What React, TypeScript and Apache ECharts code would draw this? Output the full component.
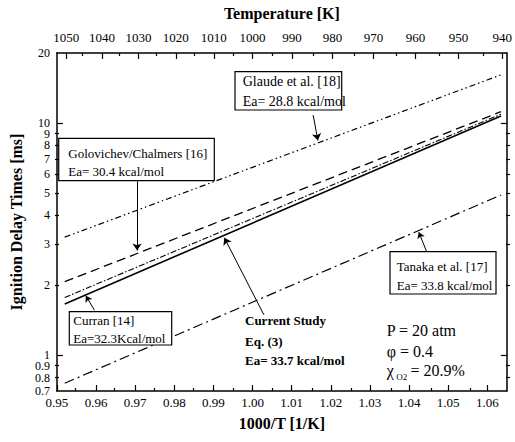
import React, { useEffect, useRef } from "react";
import * as echarts from "echarts";

// ---- data ----
const xEnds = [0.952, 1.0635]; // 1000/T at line ends
const glaude = [3.22, 16.1];
const golovichev = [2.07, 11.17];
const curran = [1.77, 10.9];
const current = [1.66, 10.7];
const tanaka = [0.756, 4.89];

const xTicks = [0.95, 0.96, 0.97, 0.98, 0.99, 1.0, 1.01, 1.02, 1.03, 1.04, 1.05, 1.06];
const xMinorTicks = [0.955, 0.965, 0.975, 0.985, 0.995, 1.005, 1.015, 1.025, 1.035, 1.045, 1.055];
const tempTicks = [1050, 1040, 1030, 1020, 1010, 1000, 990, 980, 970, 960, 950, 940];
const tempMinorTicks = [1045, 1035, 1025, 1015, 1005, 995, 985, 975, 965, 955, 945];
const yLabels = [0.7, 0.8, 0.9, 1, 2, 3, 4, 5, 6, 7, 8, 9, 10, 20];
const yMajorTicks = [1, 10];
const yMinorTicks = [0.8, 0.9, 2, 3, 4, 5, 6, 7, 8, 9];

// arrows: [tail, tip] in data space ([1000/T, ms])
const arrowGlaude = [[1.0155, 10.8], [1.0167, 8.4]];
const arrowGolovichev = [[0.9705, 5.6], [0.9705, 2.82]];
const arrowCurrent = [[1.0029, 1.49], [0.9928, 3.2]];
const arrowCurran = [[0.9596, 1.56], [0.9574, 1.8]];
const arrowTanaka = [[1.0445, 2.79], [1.0425, 3.38]];

const FONT = "Liberation Serif";
const YMIN = Math.log10(0.7);
const YMAX = Math.log10(20);

function pts(vals: number[]) {
  return xEnds.map((x, i) => [x, Math.log10(vals[i])]);
}
function arrow(a: number[][], size: number) {
  return [
    { coord: [a[0][0], Math.log10(a[0][1])], symbol: "none" },
    { coord: [a[1][0], Math.log10(a[1][1])], symbol: "arrow", symbolSize: size },
  ];
}

function lineSeries(name: string, vals: number[], type: any, width: number, extra: any = {}) {
  return {
    name,
    type: "line",
    xAxisIndex: 0,
    yAxisIndex: 0,
    data: pts(vals),
    symbol: "none",
    silent: true,
    lineStyle: { color: "#000", width, type },
    ...extra,
  };
}

const axisLineStyle = { show: true, onZero: false, lineStyle: { color: "#000", width: 1.5 } };
const noLine = { show: false, onZero: false };
const tickLabel = { color: "#000", fontSize: 13, fontFamily: FONT, showMinLabel: true, showMaxLabel: true };
const nameStyle = { fontWeight: "bold", fontSize: 16, fontFamily: FONT, color: "#000" };
const tickLine = { color: "#000", width: 1.2 };

export default function App() {
  const ref = useRef<HTMLDivElement>(null);
  useEffect(() => {
    if (!ref.current) return;
    const chart = echarts.init(ref.current, undefined, { renderer: "svg" });
    const box = (x: number, y: number, w: number, h: number) => ({
      type: "rect",
      z: 100,
      shape: { x, y, width: w, height: h },
      style: { fill: "#fff", stroke: "#000", lineWidth: 1.2 },
    });
    const txt = (x: number, y: number, text: string, size: number, weight = "normal") => ({
      type: "text",
      z: 101,
      x,
      y,
      style: {
        text,
        fontSize: size,
        fontFamily: FONT,
        fontWeight: weight,
        fill: "#000",
        align: "left",
        verticalAlign: "middle",
        textAlign: "left",
        textVerticalAlign: "middle",
      },
    });
    const option: any = {
      animation: false,
      textStyle: { fontFamily: FONT },
      grid: [
        { left: 55, right: 5, top: 53, bottom: 51 },
        { left: 55, right: 5, top: 53, bottom: 51 },
      ],
      xAxis: [
        {
          gridIndex: 0,
          type: "value",
          position: "bottom",
          min: 0.95,
          max: 1.065,
          axisLine: axisLineStyle,
          splitLine: { show: false },
          axisTick: { inside: true, length: 6, customValues: xTicks, lineStyle: tickLine },
          axisLabel: {
            ...tickLabel,
            customValues: xTicks,
            formatter: (v: number) => v.toFixed(2),
            margin: 5,
          },
          name: "1000/T [1/K]",
          nameLocation: "middle",
          nameGap: 24,
          nameTextStyle: nameStyle,
        },
        {
          gridIndex: 0,
          type: "value",
          position: "top",
          min: 0.95,
          max: 1.065,
          axisLine: axisLineStyle,
          splitLine: { show: false },
          axisTick: {
            inside: true,
            length: 6,
            customValues: tempTicks.map((t) => 1000 / t),
            lineStyle: tickLine,
          },
          axisLabel: {
            ...tickLabel,
            customValues: tempTicks.map((t) => 1000 / t),
            formatter: (v: number) => String(Math.round(1000 / v)),
            margin: 9,
          },
          name: "Temperature [K]",
          nameLocation: "middle",
          nameGap: 32,
          nameTextStyle: nameStyle,
        },
        {
          gridIndex: 1,
          type: "value",
          position: "bottom",
          min: 0.95,
          max: 1.065,
          axisLine: noLine,
          splitLine: { show: false },
          axisLabel: { show: false },
          axisTick: { inside: true, length: 3, customValues: xMinorTicks, lineStyle: tickLine },
        },
        {
          gridIndex: 1,
          type: "value",
          position: "top",
          min: 0.95,
          max: 1.065,
          axisLine: noLine,
          splitLine: { show: false },
          axisLabel: { show: false },
          axisTick: {
            inside: true,
            length: 3,
            customValues: tempMinorTicks.map((t) => 1000 / t),
            lineStyle: tickLine,
          },
        },
      ],
      yAxis: [
        {
          gridIndex: 0,
          type: "value",
          position: "left",
          min: YMIN,
          max: YMAX,
          axisLine: axisLineStyle,
          splitLine: { show: false },
          axisTick: {
            inside: true,
            length: 6,
            customValues: yMajorTicks.map((v) => Math.log10(v)),
            lineStyle: tickLine,
          },
          axisLabel: {
            ...tickLabel,
            fontSize: 12,
            customValues: yLabels.map((v) => Math.log10(v)),
            formatter: (v: number) => {
              const t = Math.pow(10, v);
              return t < 0.95 ? t.toFixed(1) : String(Math.round(t));
            },
            margin: 7,
            lineHeight: 10,
          },
          name: "Ignition Delay Times [ms]",
          nameLocation: "middle",
          nameGap: 30,
          nameRotate: 90,
          nameTextStyle: nameStyle,
        },
        {
          gridIndex: 0,
          type: "value",
          position: "right",
          min: YMIN,
          max: YMAX,
          axisLine: axisLineStyle,
          splitLine: { show: false },
          axisLabel: { show: false },
          axisTick: {
            inside: true,
            length: 6,
            customValues: yMajorTicks.map((v) => Math.log10(v)),
            lineStyle: tickLine,
          },
        },
        {
          gridIndex: 1,
          type: "value",
          position: "left",
          min: YMIN,
          max: YMAX,
          axisLine: noLine,
          splitLine: { show: false },
          axisLabel: { show: false },
          axisTick: {
            inside: true,
            length: 4,
            customValues: yMinorTicks.map((v) => Math.log10(v)),
            lineStyle: tickLine,
          },
        },
        {
          gridIndex: 1,
          type: "value",
          position: "right",
          min: YMIN,
          max: YMAX,
          axisLine: noLine,
          splitLine: { show: false },
          axisLabel: { show: false },
          axisTick: {
            inside: true,
            length: 4,
            customValues: yMinorTicks.map((v) => Math.log10(v)),
            lineStyle: tickLine,
          },
        },
      ],
      series: [
        lineSeries("Glaude et al. [18]", glaude, [6, 3, 1.5, 3, 1.5, 3], 1.2),
        lineSeries("Golovichev/Chalmers [16]", golovichev, [9, 5], 1.3),
        lineSeries("Curran [14]", curran, [6, 2, 1.5, 2], 1.1),
        lineSeries("Tanaka et al. [17]", tanaka, [10, 4, 2, 4], 1.2),
        lineSeries("Current Study", current, "solid", 1.6, {
          markLine: {
            silent: true,
            animation: false,
            label: { show: false },
            emphasis: { disabled: true },
            lineStyle: { color: "#000", width: 1, type: "solid" },
            data: [
              arrow(arrowGlaude, 7),
              arrow(arrowGolovichev, 7),
              arrow(arrowCurrent, 7),
              arrow(arrowCurran, 6),
              arrow(arrowTanaka, 6),
            ],
          },
        }),
      ],
      graphic: [
        box(235, 71.7, 106.7, 38.3),
        txt(242.7, 81.7, "Glaude et al. [18]", 14),
        txt(242.7, 101.7, "Ea= 28.8 kcal/mol", 14),
        box(58.7, 138.3, 155.6, 42.4),
        txt(68.3, 153.3, "Golovichev/Chalmers [16]", 13),
        txt(68.3, 171.7, "Ea= 30.4 kcal/mol", 13),
        box(69.3, 311.7, 102.4, 33.3),
        txt(73.3, 320.7, "Curran [14]", 13),
        txt(73.3, 338.3, "Ea=32.3Kcal/mol", 13),
        box(390, 251.7, 106, 42.3),
        txt(396.7, 266.7, "Tanaka et al. [17]", 13),
        txt(396.7, 285, "Ea= 33.8 kcal/mol", 13),
        txt(245, 320.7, "Current Study", 13, "bold"),
        txt(245, 341.7, "Eq. (3)", 13, "bold"),
        txt(245, 360, "Ea= 33.7 kcal/mol", 13, "bold"),
        txt(386.7, 330, "P = 20 atm", 16),
        txt(386.7, 351.7, "\u03c6 = 0.4", 16),
        txt(386.7, 370, "\u03c7", 16),
        txt(396.2, 376.7, "O2", 9),
        txt(410.5, 370, "= 20.9%", 16),
      ],
    };
    chart.setOption(option);
    return () => chart.dispose();
  }, []);
  return (
    <div
      ref={ref}
      style={{ position: "absolute", left: 0, top: 0, width: 515, height: 442, background: "#fff" }}
    />
  );
}
